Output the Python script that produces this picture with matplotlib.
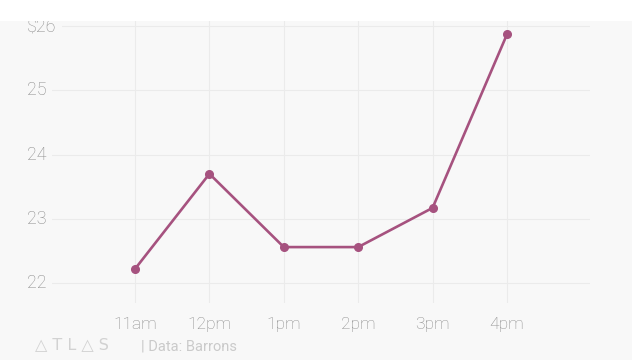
import matplotlib
matplotlib.use("Agg")
import matplotlib.pyplot as plt
import matplotlib.transforms as mtransforms
from matplotlib.patches import Rectangle

# data
times = ["11am", "12pm", "1pm", "2pm", "3pm", "4pm"]
price = [22.22, 23.70, 22.56, 22.56, 23.17, 25.87]
yticks = [22, 23, 24, 25, 26]
ylabels = ["22", "23", "24", "25", "$26"]

plt.rcParams["font.family"] = ["Roboto", "DejaVu Sans"]

W, H = 635, 360
fig = plt.figure(figsize=(W / 100, H / 100), dpi=100, facecolor="white")
bg = "#f8f8f8"
fig.patches.append(Rectangle((0, 0), 632 / W, 1 - 21 / H, transform=fig.transFigure,
                             facecolor=bg, edgecolor="none", zorder=-1))

ax = fig.add_axes([27 / W, 1 - 303 / H, 563 / W, 282 / H])
ax.set_facecolor("none")
x = list(range(len(times)))
ax.plot(x, price, color="#a6527f", lw=1.9, marker="o", ms=5.5, zorder=3)

ax.set_xlim(-1.452, 6.116)
ax.set_ylim(21.69, 26.078)
ax.set_xticks(x)
ax.set_xticklabels(times, fontweight="light")
ax.set_yticks(yticks)
ax.set_yticklabels([])
ax.grid(True, color="#ebebeb", lw=0.8, zorder=0)
ax.tick_params(length=0, pad=10, labelsize=12.5, labelcolor="#8a8a8a")
for s in ax.spines.values():
    s.set_visible(False)

# left-aligned y labels sitting on the gridlines
trans = mtransforms.blended_transform_factory(fig.transFigure, ax.transData)
for v, lab in zip(yticks, ylabels):
    ax.text(27 / W, v, lab, transform=trans, ha="left", va="center",
            fontsize=13, color="#8a8a8a", zorder=4, fontweight="light",
            bbox=dict(facecolor=bg, edgecolor="none", pad=4))

# white band on top covers the upper part of the "$26" label
fig.patches.append(Rectangle((0, 1 - 21 / H), 1, 21 / H, transform=fig.transFigure,
                             facecolor="white", edgecolor="none", zorder=10))

fig.text(35 / W, 1 - 345 / H, "△ T L △ S", fontsize=11.5, color="#d2d2d2",
         va="center", ha="left", family=["DejaVu Sans"])
fig.text(141 / W, 1 - 346 / H, "| Data: Barrons", fontsize=10.5, color="#cacaca",
         va="center", ha="left")

fig.savefig("out.png", dpi=100, facecolor="white")
